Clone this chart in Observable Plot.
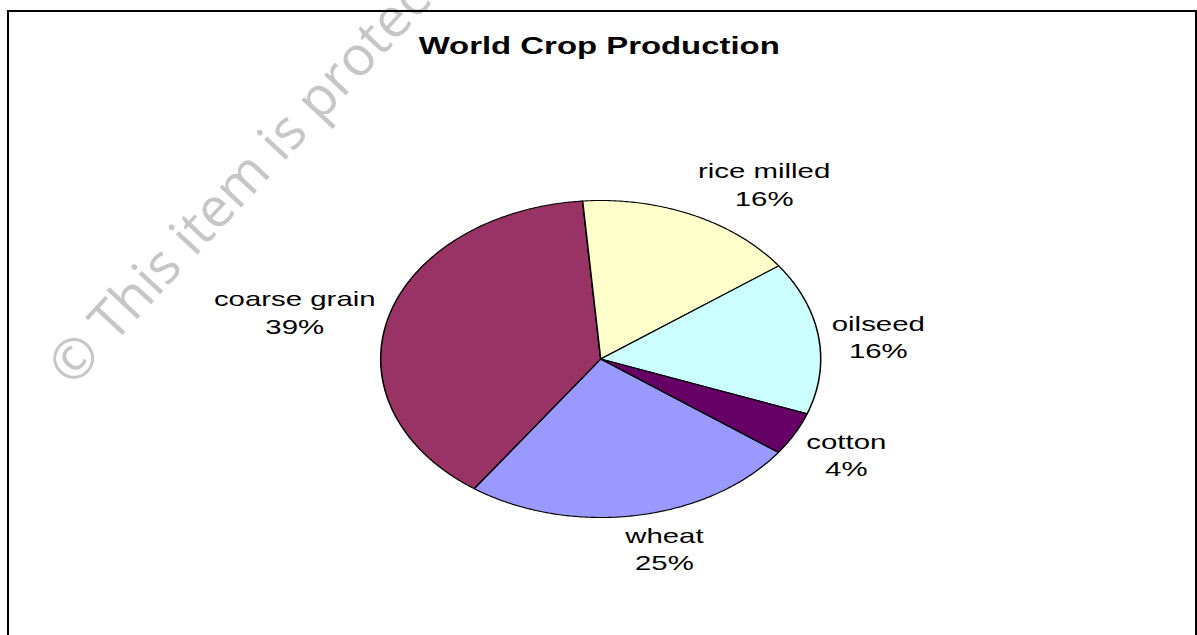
<!DOCTYPE html>
<html><head><meta charset="utf-8">
<script src="https://cdn.jsdelivr.net/npm/d3@7"></script>
<script src="https://cdn.jsdelivr.net/npm/@observablehq/plot@0.6"></script>
<style>
html,body{margin:0;padding:0;background:#fff;overflow:hidden}
#wrap{position:relative;width:1197px;height:635px;overflow:hidden;background:#fff}
#frame{position:absolute;left:7px;top:10px;width:1186px;height:700px;border:2px solid #000;box-sizing:content-box;pointer-events:none}
#chart svg,#mark svg{position:absolute;left:0;top:0}
</style></head><body>
<div id="wrap"><div id="chart"></div><div id="mark"></div><div id="frame"></div></div>
<script>
// ---- data ----
const crops  = ["wheat", "coarse grain", "rice milled", "oilseed", "cotton"];
const shares = [24.7, 38.9, 16.3, 15.6, 4.4];
const colors = ["#9999FF", "#993366", "#FFFFCC", "#CCFFFF", "#660066"];
const title = "World Crop Production";
const watermark = "© This item is protected";

// ---- layout ----
const W = 1197, H = 635, stretch = 1.4, LW = W / stretch;
const cx = 600 / stretch, cy = 358.5, rx = 220 / stretch, ry = 158.5;
const startDeg = 126.1, labelR = 1.06;
const font = "'Liberation Sans', Arial, Helvetica, sans-serif";
const labelSize = 21, labelLH = 1.3, halfH = 23;

const a0 = startDeg * Math.PI / 180;
const arcs = d3.pie().sort(null).value(d => d).startAngle(a0).endAngle(a0 + 2 * Math.PI)(shares);
const total = d3.sum(shares);

const poly = [];
arcs.forEach((a, i) => {
  const n = Math.max(8, Math.ceil((a.endAngle - a.startAngle) / (Math.PI / 360)));
  poly.push({crop: crops[i], x: 0, y: 0});
  for (let k = 0; k <= n; k++) {
    const t = a.startAngle + (a.endAngle - a.startAngle) * k / n;
    poly.push({crop: crops[i], x: Math.sin(t), y: -Math.cos(t)});
  }
});

// measure label widths (in logical, unstretched px)
const ctx = document.createElement("canvas").getContext("2d");
ctx.font = `${labelSize}px 'Liberation Sans', Arial, sans-serif`;
const clamp = v => Math.max(-1, Math.min(1, v));
const labels = arcs.map((a, i) => {
  const m = (a.startAngle + a.endAngle) / 2, s = Math.sin(m), c = Math.cos(m);
  const lines = [crops[i], `${Math.round(shares[i] / total * 100)}%`];
  const halfW = d3.max(lines, l => ctx.measureText(l).width) / 2;
  const fx = clamp(s / 0.25);
  const fy = Math.sign(-c) * Math.max(0, Math.min(1, (Math.abs(c) - 0.2) / 0.4));
  return {
    x: labelR * s + fx * halfW / rx,
    y: -labelR * c + fy * halfH / ry,
    text: lines.join("\n")
  };
});

const chart = Plot.plot({
  width: LW, height: H,
  margin: 0,
  x: {type: "linear", domain: [-1, 1], range: [cx - rx, cx + rx], axis: null},
  y: {type: "linear", domain: [-1, 1], range: [cy - ry, cy + ry], axis: null},
  color: {domain: crops, range: colors},
  marks: [
    Plot.line(poly, {x: "x", y: "y", z: "crop", fill: "crop", stroke: "#000", strokeWidth: 1.1, curve: "linear-closed", strokeLinejoin: "round"}),
    Plot.text(labels, {x: "x", y: "y", text: "text", textAnchor: "middle", lineAnchor: "middle",
      fontSize: labelSize, lineHeight: labelLH, fontFamily: font, fill: "#000"}),
    Plot.text([title], {frameAnchor: "top", dy: 53, lineAnchor: "bottom", fontSize: 23.5, fontWeight: "bold", fontFamily: font, fill: "#000"})
  ]
});
chart.setAttribute("preserveAspectRatio", "none");
chart.setAttribute("width", W);
chart.setAttribute("height", H);
chart.style.width = W + "px";
chart.style.height = H + "px";
chart.style.maxWidth = "none";
chart.style.background = "transparent";
document.getElementById("chart").appendChild(chart);

const mark = Plot.plot({
  width: W, height: H, margin: 0,
  marks: [
    Plot.text([watermark], {frameAnchor: "top-left", dx: 72, dy: 388, rotate: -47, textAnchor: "start", lineAnchor: "bottom",
      fontSize: 55, fill: "#c6c6c6", fontFamily: "'Open Sans', sans-serif"})
  ]
});
mark.style.background = "transparent";
mark.style.maxWidth = "none";
document.getElementById("mark").appendChild(mark);
</script>
</body></html>
